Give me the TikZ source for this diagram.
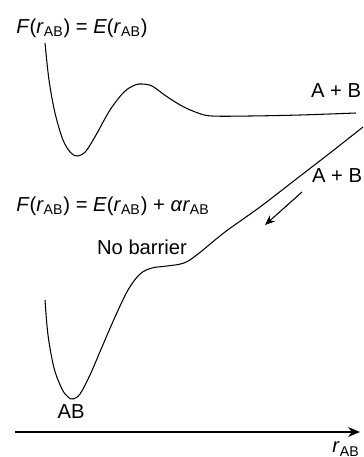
\documentclass[tikz,border=0pt]{standalone}
\usepackage{fontspec}
\setmainfont{Liberation Sans}
\usepackage{tikz}
\usetikzlibrary{arrows.meta}
\newcommand{\rAB}{\textit{r}\textsubscript{AB}}

\begin{document}
\begin{tikzpicture}[x=0.02cm, y=-0.02cm,
    every node/.style={font=\fontsize{11.5}{13}\selectfont, inner sep=0pt},
    curve/.style={line width=0.6pt, black}]
  \useasboundingbox (0,0) rectangle (363,457);

  % Upper curve
  \node (upperlbl) at (82,28) {\textit{F}(\rAB) = \textit{E}(\rAB)};
  \draw[curve] plot[smooth, tension=0.55] coordinates {(45,43) (49,80) (55,113) (63,140) (71,153) (78,156) (86,151) (96,135) (110,110) (124,92) (135,85) (142,84) (152,86) (166,96) (182,106) (198,113) (212,116) (250,116) (300,115) (356,113)};
  \node (upperab) at (336,91) {A + B};

  % Lower curve
  \node (lowerlbl) at (113,206) {\textit{F}(\rAB) = \textit{E}(\rAB) + \textit{α}\rAB};
  \draw[curve] plot[smooth, tension=0.55] coordinates {(45,300) (48,335) (54,368) (62,389) (68,397) (73,399) (80,394) (90,375) (102,347) (115,317) (128,290) (140,274) (152,268) (167,266) (184,263) (198,254) (225,232) (260,207) (295,180) (330,153) (363,127)};
  \node (lowerab) at (337,176) {A + B};
  \node (nobarrier) at (142,247) {No barrier};
  \node (ab) at (71,412) {AB};

  % Direction of pull
  \coordinate (pullA) at (302,192);
  \coordinate (pullB) at (265,225);
  \draw[-{Stealth[length=2mm, width=1.6mm]}, line width=0.6pt] (pullA) -- (pullB);

  % Axis
  \coordinate (axisL) at (15,432);
  \coordinate (axisR) at (360,432);
  \draw[-{Stealth[length=2.4mm, width=2mm]}, line width=0.6pt] (axisL) -- (axisR);
  \node (axislbl) at (346,449) {\rAB};
\end{tikzpicture}
\end{document}
